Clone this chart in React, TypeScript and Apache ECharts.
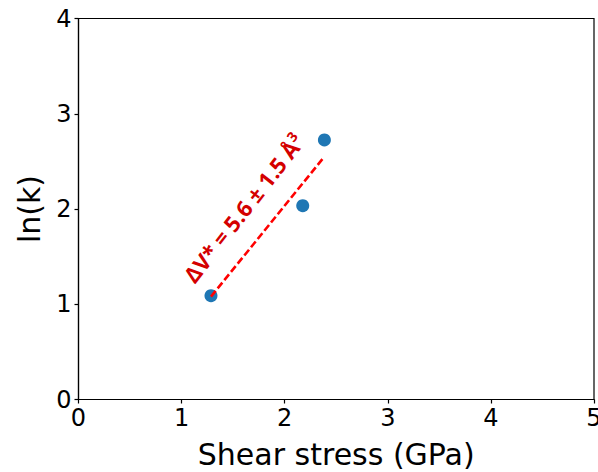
import React, { useEffect, useRef } from "react";
import * as echarts from "echarts";

const shearStress = [1.285, 2.175, 2.385];
const lnK = [1.09, 2.035, 2.725];
const fitX = [1.285, 2.385];
const fitY = [1.08, 2.55];
const annotationMain = "ΔV* = 5.6 ± 1.5 Å";
const annotationSup = "3";
const annotationAt = [1.6, 2.01];
const xTitle = "Shear stress (GPa)";
const yTitle = "ln(k)";

export default function App() {
  const ref = useRef<HTMLDivElement>(null);
  useEffect(() => {
    document.body.style.margin = "0";
    const chart = echarts.init(ref.current!, null, { renderer: "svg" });
    const font = "DejaVu Sans";
    chart.setOption({
      animation: false,
      backgroundColor: "#ffffff",
      grid: {
        left: 78.5,
        right: 4,
        top: 18.5,
        bottom: 72.5,
        outerBoundsMode: "none",
        containLabel: false,
        show: true,
        borderColor: "#000",
        borderWidth: 1.2,
        backgroundColor: "transparent",
      },
      xAxis: {
        type: "value",
        min: 0,
        max: 5,
        interval: 1,
        name: xTitle,
        nameLocation: "middle",
        nameGap: 40,
        nameTextStyle: { fontFamily: font, fontSize: 30, color: "#000" },
        axisLine: { show: true, onZero: false, lineStyle: { color: "#000", width: 1.2 } },
        axisTick: { show: true, length: 4, lineStyle: { color: "#000", width: 1.2 } },
        axisLabel: { fontFamily: font, fontSize: 24, color: "#000", margin: 6 },
        splitLine: { show: false },
      },
      yAxis: {
        type: "value",
        min: 0,
        max: 4,
        interval: 1,
        name: yTitle,
        nameLocation: "middle",
        nameGap: 34,
        nameTextStyle: { fontFamily: font, fontSize: 30, color: "#000" },
        axisLine: { show: true, onZero: false, lineStyle: { color: "#000", width: 1.2 } },
        axisTick: { show: true, length: 4, lineStyle: { color: "#000", width: 1.2 } },
        axisLabel: { fontFamily: font, fontSize: 24, color: "#000", margin: 7 },
        splitLine: { show: false },
      },
      series: [
        {
          type: "scatter",
          data: shearStress.map((x, i) => [x, lnK[i]]),
          symbolSize: 13,
          itemStyle: { color: "#1f77b4", opacity: 1 },
          z: 2,
        },
        {
          type: "line",
          data: fitX.map((x, i) => [x, fitY[i]]),
          showSymbol: false,
          symbol: "none",
          lineStyle: { color: "#ff0000", width: 2.6, type: [7.4, 3.2] },
          z: 3,
        },
      ],
    });
    const p = chart.convertToPixel({ gridIndex: 0 }, annotationAt) as number[];
    chart.setOption({
      graphic: [
        {
          type: "text",
          x: p[0],
          y: p[1],
          rotation: (52 * Math.PI) / 180,
          style: {
            text: "{m|" + annotationMain + "}{s|" + annotationSup + "}",
            fontFamily: "Open Sans",
            fontWeight: "bold",
            fontSize: 22,
            fill: "#d40000",
            textAlign: "center",
            textVerticalAlign: "middle",
            rich: {
              m: { fontFamily: "Open Sans", fontWeight: "bold", fontSize: 22, fill: "#d40000", color: "#d40000" },
              s: {
                fontFamily: "Open Sans",
                fontWeight: "bold",
                fontSize: 14,
                fill: "#d40000",
                color: "#d40000",
                verticalAlign: "top",
                padding: [0, 0, 12, 0],
              },
            },
          },
          z: 10,
        },
      ],
    });
    return () => chart.dispose();
  }, []);
  return <div ref={ref} style={{ width: 598, height: 472 }} />;
}
